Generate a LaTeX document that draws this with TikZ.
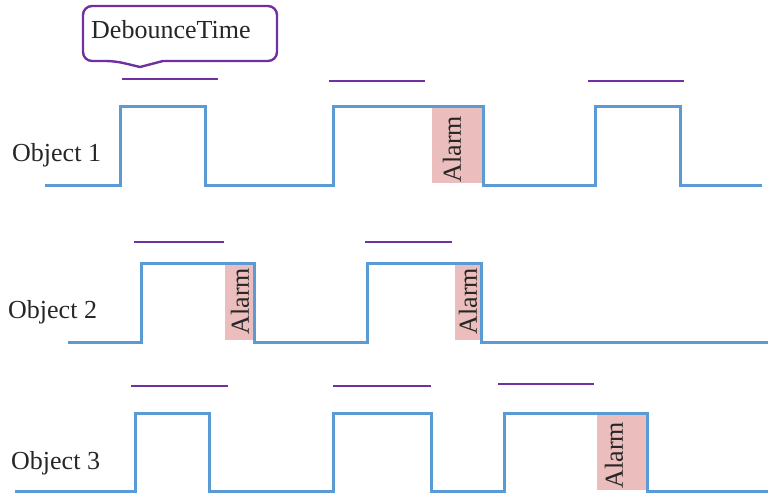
\documentclass[tikz,border=0pt]{standalone}
\usepackage{fontspec}
\setmainfont{Liberation Serif}
\definecolor{wave}{HTML}{5B9BD5}
\definecolor{deb}{HTML}{7030A0}
\definecolor{alarmfill}{HTML}{EBBDBD}

\begin{document}
\begin{tikzpicture}[x=1pt,y=-1pt,
  wavestyle/.style={wave, line width=3pt, line join=miter},
  debbar/.style={deb, line width=2.8pt},
  alarmbox/.style={fill=alarmfill, draw=none},
  lbl/.style={font=\fontsize{26}{30}\selectfont, inner sep=0pt, text=black!85}]

\useasboundingbox (0,0) rectangle (768,495);

% ---- callout ----
\node[lbl, anchor=west] (deb) at (91,30) {DebounceTime};
\draw[deb, line width=2.4pt]
  (140,67) -- (163,61) [rounded corners=9pt] -- (277,61) -- (277,6) -- (83,6)
  -- (83,61) -- (115,61) [sharp corners] -- cycle;

% ---- alarm windows ----
\fill[alarmbox] (432,107) rectangle (483,183);
\fill[alarmbox] (225,264) rectangle (254,340);
\fill[alarmbox] (455,264) rectangle (481,340);
\fill[alarmbox] (597,414) rectangle (647,490);

% ---- debounce bars ----
\draw[debbar] (122,79) -- (218,79);
\draw[debbar] (329,81) -- (425,81);
\draw[debbar] (588,81) -- (684,81);
\draw[debbar] (134,242) -- (224,242);
\draw[debbar] (365,242) -- (452,242);
\draw[debbar] (131,386) -- (228,386);
\draw[debbar] (333,386) -- (431,386);
\draw[debbar] (498,384) -- (594,384);

% ---- object 1 ----
\node[lbl, anchor=west] (o1) at (12,155) {Object 1};
\draw[wavestyle] (45,185) -- (120,185) -- (120,106) -- (205,106) -- (205,185)
  -- (333,185) -- (333,106) -- (483,106) -- (483,185)
  -- (595,185) -- (595,106) -- (680,106) -- (680,185) -- (762,185);

% ---- object 2 ----
\node[lbl, anchor=west] (o2) at (8,312) {Object 2};
\draw[wavestyle] (68,342) -- (141,342) -- (141,263) -- (254,263) -- (254,342)
  -- (367,342) -- (367,263) -- (481,263) -- (481,342) -- (768,342);

% ---- object 3 ----
\node[lbl, anchor=west] (o3) at (11,463) {Object 3};
\draw[wavestyle] (15,491) -- (135,491) -- (135,413) -- (209,413) -- (209,491)
  -- (333,491) -- (333,413) -- (431,413) -- (431,491)
  -- (504,491) -- (504,413) -- (647,413) -- (647,491) -- (768,491);

% ---- alarm labels ----
\node[lbl, rotate=90] (a1) at (452,149) {Alarm};
\node[lbl, rotate=90] (a2) at (240,301) {Alarm};
\node[lbl, rotate=90] (a3) at (468,301) {Alarm};
\node[lbl, rotate=90] (a4) at (614,455) {Alarm};
\end{tikzpicture}
\end{document}
